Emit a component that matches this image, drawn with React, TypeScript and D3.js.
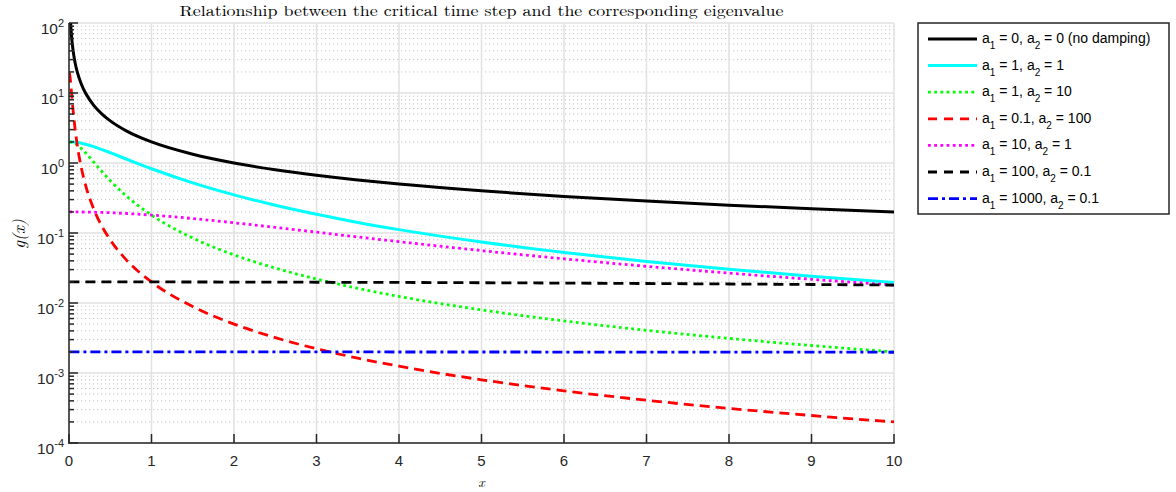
import React, { useEffect, useRef } from 'react';
import * as d3 from 'd3';

// sample points along the eigenvalue axis
const xs = [0.005, 0.01, 0.02, 0.03, 0.05, 0.075, 0.1, 0.15, 0.2, 0.3, 0.4, 0.5, 0.7, 1, 1.5, 2, 2.5, 3, 3.5, 4, 5, 6, 7, 8, 9, 10];

// values, one array per curve
const noDamping = [400, 200, 100, 66.7, 40, 26.67, 20, 13.33, 10, 6.667, 5, 4, 2.857, 2, 1.333, 1, 0.8, 0.667, 0.571, 0.5, 0.4, 0.333, 0.286, 0.25, 0.222, 0.2];
const a1_1_a2_1 = [2.0, 2.0, 1.998, 1.996, 1.99, 1.978, 1.961, 1.916, 1.857, 1.714, 1.557, 1.403, 1.132, 0.828, 0.521, 0.351, 0.249, 0.185, 0.1417, 0.1118, 0.0743, 0.0527, 0.0393, 0.0303, 0.0241, 0.0196];
const a1_1_a2_10 = [2.0, 1.998, 1.991, 1.98, 1.947, 1.884, 1.803, 1.609, 1.4, 1.028, 0.752, 0.56, 0.334, 0.1803, 0.0848, 0.0487, 0.0315, 0.022, 0.0162, 0.0124, 0.00797, 0.00554, 0.00407, 0.00312, 0.00247, 0.002];
const a1_01_a2_100 = [19.47, 18.03, 14.0, 10.28, 5.6, 2.98, 1.803, 0.848, 0.487, 0.2195, 0.124, 0.0797, 0.0407, 0.02, 0.00888, 0.005, 0.0032, 0.00222, 0.00163, 0.00125, 0.0008, 0.000556, 0.000408, 0.000312, 0.000247, 0.0002];
const a1_10_a2_1 = [0.2, 0.2, 0.2, 0.2, 0.2, 0.1999, 0.1998, 0.1995, 0.1991, 0.198, 0.1966, 0.1947, 0.1898, 0.1803, 0.1609, 0.14, 0.1203, 0.1028, 0.0878, 0.0752, 0.056, 0.0428, 0.0334, 0.0267, 0.0218, 0.018];
const a1_100_a2_01 = [0.02, 0.02, 0.02, 0.02, 0.02, 0.02, 0.02, 0.02, 0.02, 0.02, 0.02, 0.019995, 0.01999, 0.01998, 0.01996, 0.01991, 0.01986, 0.0198, 0.01973, 0.01966, 0.01947, 0.01924, 0.01898, 0.01869, 0.01838, 0.01803];
const a1_1000_a2_01 = [0.002, 0.002, 0.002, 0.002, 0.002, 0.002, 0.002, 0.002, 0.002, 0.002, 0.002, 0.002, 0.002, 0.0019998, 0.0019996, 0.0019992, 0.0019988, 0.0019982, 0.0019975, 0.0019968, 0.001995, 0.0019928, 0.0019902, 0.0019873, 0.0019839, 0.0019802];

const legendA1 = ['0', '1', '1', '0.1', '10', '100', '1000'];
const legendA2 = ['0 (no damping)', '1', '10', '100', '1', '0.1', '0.1'];

const xTicks = [0, 1, 2, 3, 4, 5, 6, 7, 8, 9, 10];
const yExponents = [-4, -3, -2, -1, 0, 1, 2];

const styles = [
  { color: '#000000', width: 3, dash: null },
  { color: '#00ffff', width: 3, dash: null },
  { color: '#00ff00', width: 2.8, dash: '2.8,3.4' },
  { color: '#ff0000', width: 2.8, dash: '10,6' },
  { color: '#ff00ff', width: 2.8, dash: '2.8,3.4' },
  { color: '#000000', width: 2.8, dash: '10,6' },
  { color: '#0000ff', width: 2.8, dash: '10,4,3,4' },
];

const App = () => {
  const ref = useRef<SVGSVGElement>(null);

  useEffect(() => {
    const svg = d3.select(ref.current);
    svg.selectAll('*').remove();

    const left = 69, right = 894, top = 23, bottom = 443;
    const x = d3.scaleLinear().domain([0, 10]).range([left, right]);
    const y = d3.scaleLog().domain([1e-4, 1e2]).range([bottom, top]);

    const series = [noDamping, a1_1_a2_1, a1_1_a2_10, a1_01_a2_100, a1_10_a2_1, a1_100_a2_01, a1_1000_a2_01];

    svg.append('rect').attr('width', 1176).attr('height', 492).attr('fill', '#fff');

    // minor grid (dotted, horizontal only)
    const minors: number[] = [];
    for (let k = -4; k < 2; k++) for (let m = 2; m <= 9; m++) minors.push(m * Math.pow(10, k));
    svg.append('g').selectAll('line').data(minors).enter().append('line')
      .attr('x1', left).attr('x2', right)
      .attr('y1', d => y(d)).attr('y2', d => y(d))
      .attr('stroke', '#c4c4c4').attr('stroke-width', 1).attr('stroke-dasharray', '1.2,2.8');

    // major grid
    const grid = svg.append('g').attr('stroke', '#e1e1e1').attr('stroke-width', 1.5);
    grid.selectAll('.gy').data(yExponents).enter().append('line')
      .attr('x1', left).attr('x2', right)
      .attr('y1', d => y(Math.pow(10, d))).attr('y2', d => y(Math.pow(10, d)));
    grid.selectAll('.gx').data(xTicks).enter().append('line')
      .attr('y1', top).attr('y2', bottom)
      .attr('x1', d => x(d)).attr('x2', d => x(d));

    // curves
    svg.append('clipPath').attr('id', 'plotclip').append('rect')
      .attr('x', left).attr('y', top).attr('width', right - left).attr('height', bottom - top);
    const line = d3.line<number>()
      .x((d, i) => x(xs[i]))
      .y(d => y(d))
      .curve(d3.curveMonotoneX);
    const curves = svg.append('g').attr('clip-path', 'url(#plotclip)');
    series.forEach((s, i) => {
      const p = curves.append('path')
        .attr('d', line(s))
        .attr('fill', 'none')
        .attr('stroke', styles[i].color)
        .attr('stroke-width', styles[i].width);
      if (styles[i].dash) p.attr('stroke-dasharray', styles[i].dash);
    });

    // axes
    const ax = svg.append('g').attr('stroke', '#262626').attr('stroke-width', 1.5);
    ax.append('line').attr('x1', left).attr('x2', left).attr('y1', top).attr('y2', bottom + 0.75);
    ax.append('line').attr('x1', left - 0.75).attr('x2', right + 0.75).attr('y1', bottom).attr('y2', bottom);
    ax.selectAll('.tx').data(xTicks).enter().append('line')
      .attr('x1', d => x(d)).attr('x2', d => x(d))
      .attr('y1', bottom).attr('y2', bottom - 9);
    ax.selectAll('.ty').data(yExponents).enter().append('line')
      .attr('x1', left).attr('x2', left + 9)
      .attr('y1', d => y(Math.pow(10, d))).attr('y2', d => y(Math.pow(10, d)));
    ax.selectAll('.tm').data(minors).enter().append('line')
      .attr('x1', left).attr('x2', left + 5)
      .attr('y1', d => y(d)).attr('y2', d => y(d));

    const sans = 'Helvetica, "Liberation Sans", Arial, sans-serif';
    const serif = '"Latin Modern Roman", "CMU Serif", "DejaVu Serif", "Liberation Serif", serif';

    // x tick labels
    svg.append('g').selectAll('text').data(xTicks).enter().append('text')
      .attr('x', d => x(d)).attr('y', 466)
      .attr('text-anchor', 'middle')
      .attr('font-family', sans).attr('font-size', 15).attr('fill', '#262626')
      .text(d => d);

    // y tick labels: 10^k
    const yl = svg.append('g').selectAll('text').data(yExponents).enter().append('text')
      .attr('x', 64).attr('y', d => y(Math.pow(10, d)) + 11)
      .attr('text-anchor', 'end')
      .attr('font-family', sans).attr('font-size', 15.5).attr('fill', '#262626');
    yl.append('tspan').text('10');
    yl.append('tspan').attr('dy', -7).attr('font-size', 11).text(d => d);

    // title and axis labels
    svg.append('text')
      .attr('x', (left + right) / 2).attr('y', 16)
      .attr('text-anchor', 'middle')
      .attr('font-family', serif).attr('font-size', 14.5)
      .attr('textLength', 604).attr('lengthAdjust', 'spacingAndGlyphs')
      .text('Relationship between the critical time step and the corresponding eigenvalue');
    svg.append('text')
      .attr('x', (left + right) / 2).attr('y', 487)
      .attr('text-anchor', 'middle')
      .attr('font-family', serif).attr('font-style', 'italic').attr('font-size', 14)
      .text('x');
    svg.append('text')
      .attr('transform', `translate(25, 234) rotate(-90)`)
      .attr('text-anchor', 'middle')
      .attr('font-family', serif).attr('font-style', 'italic').attr('font-size', 17)
      .text('g(x)');

    // legend
    const lg = svg.append('g');
    lg.append('rect').attr('x', 918).attr('y', 23).attr('width', 251).attr('height', 191)
      .attr('fill', '#fff').attr('stroke', '#262626').attr('stroke-width', 1.5);
    styles.forEach((s, i) => {
      const cy = 39 + i * 26.6;
      const l = lg.append('line').attr('x1', 928).attr('x2', 977).attr('y1', cy).attr('y2', cy)
        .attr('stroke', s.color).attr('stroke-width', s.width);
      if (s.dash) l.attr('stroke-dasharray', i === 3 || i === 5 ? '9,7' : s.dash);
      const t = lg.append('text').attr('x', 982).attr('y', cy + 4)
        .attr('font-family', sans).attr('font-size', 14).attr('fill', '#000');
      t.append('tspan').text('a');
      t.append('tspan').attr('dy', 6).attr('font-size', 10).text('1');
      t.append('tspan').attr('dy', -6).text(` = ${legendA1[i]}, a`);
      t.append('tspan').attr('dy', 6).attr('font-size', 10).text('2');
      t.append('tspan').attr('dy', -6).text(` = ${legendA2[i]}`);
    });
  }, []);

  return <svg ref={ref} width={1176} height={492} style={{ position: 'absolute', left: 0, top: 0 }} />;
};

export default App;
